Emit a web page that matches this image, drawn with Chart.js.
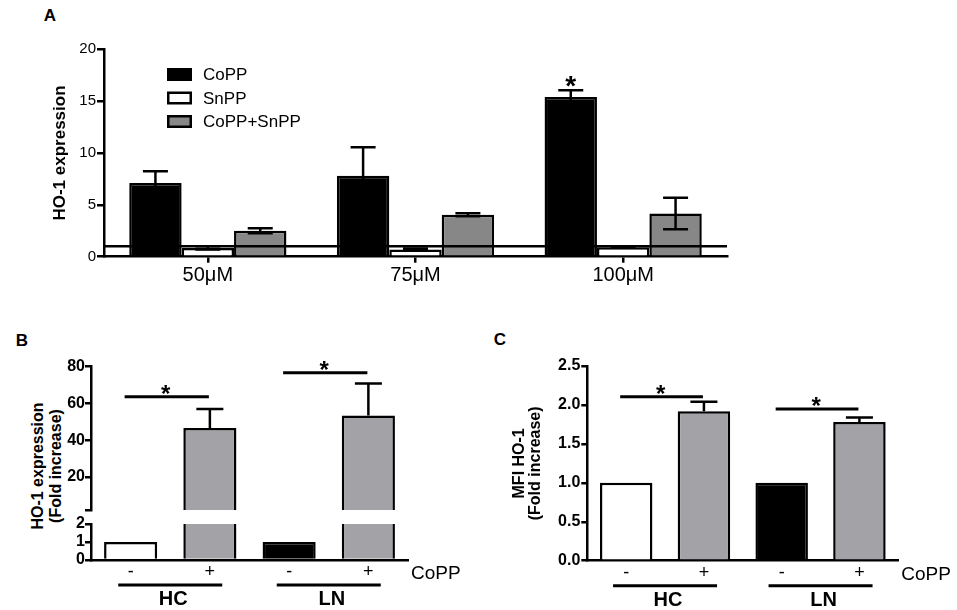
<!DOCTYPE html>
<html><head><meta charset="utf-8">
<script src="https://cdn.jsdelivr.net/npm/chart.js@4"></script>
<style>
html,body{margin:0;padding:0;background:#fff;}
body{width:957px;height:610px;position:relative;overflow:hidden;font-family:'Liberation Sans',Arial,sans-serif;color:#000;}
canvas{position:absolute;}
.lbl{position:absolute;font-weight:bold;line-height:1;transform:translate(-50%,-50%);white-space:nowrap;}
.ytitle{position:absolute;font-weight:bold;font-size:16px;line-height:17.5px;text-align:center;white-space:nowrap;transform:translate(-50%,-50%) rotate(-90deg);}
</style></head><body>
<div class="lbl" style="left:50px;top:15px;font-size:17px">A</div>
<div class="lbl" style="left:22px;top:340px;font-size:17px">B</div>
<div class="lbl" style="left:500px;top:339px;font-size:17px">C</div>
<div class="ytitle" style="left:45.5px;top:466px">HO-1 expression<br>(Fold increase)</div>
<canvas id="cA" width="957" height="300" style="left:0;top:0"></canvas>
<canvas id="cBu" width="480" height="190" style="left:0;top:330px"></canvas>
<canvas id="cBl" width="480" height="98" style="left:0;top:512px"></canvas>
<canvas id="cC" width="477" height="290" style="left:480px;top:320px"></canvas>
<script>
// ---------- data ----------
const doseLabels = ['50μM', '75μM', '100μM'];
const seriesNames = ['CoPP', 'SnPP', 'CoPP+SnPP'];
const coppMean = [7.1, 7.8, 15.4];
const coppSem = [1.15, 2.75, 0.65];
const snppMean = [0.85, 0.7, 0.92];
const snppSem = [0.15, 0.08, 0.05];
const comboMean = [2.5, 4.05, 4.17];
const comboSem = [0.25, 0.15, 1.52];
const baselineA = 1;
const yTicksA = [0, 5, 10, 15, 20];

const treatLabels = ['-', '+', '-', '+'];
const cohortLabels = ['HC', 'LN'];
const treatmentName = 'CoPP';
const hoFoldMean = [1, 46.6, 1, 53.4];
const hoFoldSem = [0, 10.4, 0, 17.5];
const yTicksBUpper = [2, 20, 40, 60, 80];
const yTicksBLower = [0, 1, 2];
const mfiFoldMean = [1, 1.92, 1, 1.78];
const mfiFoldSem = [0, 0.12, 0, 0.06];
const yTicksC = [0, 0.5, 1, 1.5, 2, 2.5];
const sigB = [{from: 0, to: 1, level: 63.7}, {from: 2, to: 3, level: 76.7}];
const sigC = [{from: 0, to: 1, level: 2.105}, {from: 2, to: 3, level: 1.947}];

// ---------- style ----------
const F = "'Liberation Sans', Arial, sans-serif";
const GRAY_A = '#878787';
const GRAY_B = '#a3a3a7';
const barColorsBC = ['#ffffff', GRAY_B, '#000000', GRAY_B];
const LW = 2.5;

const errPlugin = {
  id: 'errbars',
  afterDatasetsDraw(chart, args, o) {
    const ctx = chart.ctx, y = chart.scales.y, ca = chart.chartArea;
    ctx.save();
    ctx.beginPath(); ctx.rect(ca.left, ca.top - 2, ca.right - ca.left, ca.bottom - ca.top + 2); ctx.clip();
    ctx.strokeStyle = '#000'; ctx.lineWidth = LW;
    chart.data.datasets.forEach((ds, di) => {
      if (!ds.errors) return;
      const meta = chart.getDatasetMeta(di);
      meta.data.forEach((bar, i) => {
        const e = ds.errors[i]; if (!e) return;
        const v = ds.data[i];
        const top = y.getPixelForValue(v + e);
        const bot = y.getPixelForValue(o.both ? v - e : v);
        const half = o.cap / 2;
        ctx.beginPath();
        ctx.moveTo(bar.x, top); ctx.lineTo(bar.x, bot);
        ctx.moveTo(bar.x - half, top); ctx.lineTo(bar.x + half, top);
        if (o.both) { ctx.moveTo(bar.x - half, bot); ctx.lineTo(bar.x + half, bot); }
        ctx.stroke();
      });
    });
    ctx.restore();
  }
};

const annotPlugin = {
  id: 'annot',
  afterDraw(chart, args, o) {
    const ctx = chart.ctx, x = chart.scales.x, y = chart.scales.y, ca = chart.chartArea;
    ctx.save(); ctx.fillStyle = '#000'; ctx.strokeStyle = '#000';
    if (o.baseline !== undefined) {
      const py = y.getPixelForValue(o.baseline);
      ctx.lineWidth = LW; ctx.beginPath(); ctx.moveTo(ca.left, py); ctx.lineTo(ca.right, py); ctx.stroke();
    }
    if (o.legend) {
      chart.data.datasets.forEach((ds, i) => {
        const cy = 74.5 + i * 23.5;
        ctx.fillStyle = ds.backgroundColor; ctx.fillRect(167, cy - 6.5, 25, 13);
        ctx.lineWidth = LW; ctx.strokeStyle = '#000'; ctx.strokeRect(168.25, cy - 5.25, 22.5, 10.5);
        ctx.fillStyle = '#000'; ctx.font = '17px ' + F; ctx.textAlign = 'left'; ctx.textBaseline = 'middle';
        ctx.fillText(ds.label, 203, cy + 1);
      });
    }
    if (o.star) {
      const ds = chart.data.datasets[o.star.ds];
      const meta = chart.getDatasetMeta(o.star.ds);
      const i = o.star.index;
      const py = y.getPixelForValue(ds.data[i] + ds.errors[i]);
      ctx.font = 'bold 28px ' + F; ctx.textAlign = 'center'; ctx.textBaseline = 'alphabetic';
      ctx.fillText('*', meta.data[i].x, py + 5);
    }
    (o.sig || []).forEach(s => {
      const x1 = x.getPixelForValue(s.from) - 6, x2 = x.getPixelForValue(s.to) - 1;
      const py = y.getPixelForValue(s.level);
      ctx.lineWidth = 3; ctx.beginPath(); ctx.moveTo(x1, py); ctx.lineTo(x2, py); ctx.stroke();
      ctx.font = 'bold 24px ' + F; ctx.textAlign = 'center'; ctx.textBaseline = 'alphabetic';
      ctx.fillText('*', (x1 + x2) / 2 - 1, py + 5);
    });
    if (o.groups) {
      const b = ca.bottom;
      ctx.font = '19px ' + F; ctx.textAlign = 'left'; ctx.textBaseline = 'middle';
      ctx.fillText(o.groups.treatment, ca.right + 3, b + 14);
      o.groups.names.forEach((n, g) => {
        const c = (x.getPixelForValue(2 * g) + x.getPixelForValue(2 * g + 1)) / 2;
        ctx.lineWidth = 3; ctx.beginPath(); ctx.moveTo(c - 52, b + 25); ctx.lineTo(c + 52, b + 25); ctx.stroke();
        ctx.font = 'bold 20px ' + F; ctx.textAlign = 'center'; ctx.textBaseline = 'middle';
        ctx.fillText(n, c + 3, b + 39.5);
      });
    }
    ctx.restore();
  }
};

function yScale(ticks, opts) {
  return Object.assign({
    min: ticks[0], max: ticks[ticks.length - 1],
    afterBuildTicks(s) { s.ticks = ticks.map(v => ({value: v})); },
    grid: {drawOnChartArea: false, drawTicks: true, tickLength: 6, color: '#000', lineWidth: LW},
    border: {display: true, color: '#000', width: LW},
    ticks: {color: '#000', padding: 1, autoSkip: false, font: {family: F, size: 16, weight: 'bold'}}
  }, opts);
}

const base = {responsive: false, animation: false, devicePixelRatio: 1,
  plugins: {legend: {display: false}, tooltip: {enabled: false}}};

// ---------- Panel A ----------
new Chart(document.getElementById('cA'), {
  type: 'bar',
  data: {labels: doseLabels, datasets: [
    {label: seriesNames[0], data: coppMean, errors: coppSem, backgroundColor: '#000000'},
    {label: seriesNames[1], data: snppMean, errors: snppSem, backgroundColor: '#ffffff'},
    {label: seriesNames[2], data: comboMean, errors: comboSem, backgroundColor: GRAY_A}
  ]},
  options: Object.assign({}, base, {
    layout: {padding: {left: 0, top: 49.3, right: 230, bottom: 0}},
    datasets: {bar: {categoryPercentage: 0.757, barPercentage: 1, borderColor: '#000', borderWidth: LW}},
    plugins: Object.assign({}, base.plugins, {
      errbars: {both: true, cap: 25},
      annot: {baseline: baselineA, legend: true, star: {ds: 0, index: 2}}
    }),
    scales: {
      x: {grid: {display: true, drawOnChartArea: false, offset: false, drawTicks: true, tickLength: 6, color: '#000', lineWidth: LW},
          border: {display: true, color: '#000', width: LW},
          ticks: {color: '#000', padding: 1, font: {family: F, size: 20}},
          afterFit(s) { s.height = 43.3; }},
      y: yScale(yTicksA, {
        grid: {drawOnChartArea: false, drawTicks: true, tickLength: 7, color: '#000', lineWidth: LW},
        ticks: {color: '#000', padding: 1, autoSkip: false, font: {family: F, size: 15}},
        title: {display: true, text: 'HO-1 expression', color: '#000', font: {family: F, size: 17, weight: 'bold'}, padding: {top: 49.8, bottom: 0}},
        afterFit(s) { s.width = 104; }
      })
    }
  }),
  plugins: [errPlugin, annotPlugin]
});

// ---------- Panel B (broken axis: two stacked charts) ----------
const bDataset = () => ({label: 'HO-1', data: hoFoldMean, errors: hoFoldSem, backgroundColor: barColorsBC,
  borderColor: '#000', borderWidth: LW, clip: 0});
new Chart(document.getElementById('cBu'), {
  type: 'bar',
  data: {labels: treatLabels, datasets: [bDataset()]},
  options: Object.assign({}, base, {
    layout: {padding: {left: 0, top: 36.7, right: 72, bottom: 10}},
    datasets: {bar: {categoryPercentage: 0.67, barPercentage: 1}},
    plugins: Object.assign({}, base.plugins, {errbars: {both: false, cap: 27}, annot: {sig: sigB}}),
    scales: {
      x: {display: false},
      y: yScale(yTicksBUpper, {
        ticks: {color: '#000', padding: 0, autoSkip: false, font: {family: F, size: 16, weight: 'bold'}, callback: v => v === yTicksBUpper[0] ? '' : v},
        afterFit(s) { s.width = 91; }
      })
    }
  }),
  plugins: [errPlugin, annotPlugin]
});
new Chart(document.getElementById('cBl'), {
  type: 'bar',
  data: {labels: treatLabels, datasets: [bDataset()]},
  options: Object.assign({}, base, {
    layout: {padding: {left: 0, top: 12, right: 72, bottom: 0}},
    datasets: {bar: {categoryPercentage: 0.67, barPercentage: 1}},
    plugins: Object.assign({}, base.plugins, {errbars: {both: false, cap: 27}, annot: {groups: {names: cohortLabels, treatment: treatmentName}}}),
    scales: {
      x: {grid: {display: false, drawTicks: false}, border: {display: true, color: '#000', width: LW},
          ticks: {color: '#000', padding: 1.5, font: {family: F, size: 18}},
          afterFit(s) { s.height = 50; }},
      y: yScale(yTicksBLower, {
        ticks: {color: '#000', padding: 0, autoSkip: false, font: {family: F, size: 16, weight: 'bold'}},
        afterFit(s) { s.width = 91; }
      })
    }
  }),
  plugins: [errPlugin, annotPlugin]
});

// ---------- Panel C ----------
new Chart(document.getElementById('cC'), {
  type: 'bar',
  data: {labels: treatLabels, datasets: [{label: 'MFI HO-1', data: mfiFoldMean, errors: mfiFoldSem,
    backgroundColor: barColorsBC, borderColor: '#000', borderWidth: LW}]},
  options: Object.assign({}, base, {
    layout: {padding: {left: 0, top: 46, right: 58.7, bottom: 0}},
    datasets: {bar: {categoryPercentage: 0.675, barPercentage: 1}},
    plugins: Object.assign({}, base.plugins, {errbars: {both: false, cap: 27},
      annot: {sig: sigC, groups: {names: cohortLabels, treatment: treatmentName}}}),
    scales: {
      x: {grid: {display: false, drawTicks: false}, border: {display: true, color: '#000', width: LW},
          ticks: {color: '#000', padding: 1.5, font: {family: F, size: 18}},
          afterFit(s) { s.height = 49.3; }},
      y: yScale(yTicksC, {
        ticks: {color: '#000', padding: 1, autoSkip: false, font: {family: F, size: 16, weight: 'bold'}, callback: v => Number(v).toFixed(1)},
        title: {display: true, text: ['MFI HO-1', '(Fold increase)'], color: '#000', font: {family: F, size: 16, weight: 'bold', lineHeight: 1}, padding: {top: 32, bottom: 0}},
        afterFit(s) { s.width = 107.3; }
      })
    }
  }),
  plugins: [errPlugin, annotPlugin]
});
</script>
</body></html>
